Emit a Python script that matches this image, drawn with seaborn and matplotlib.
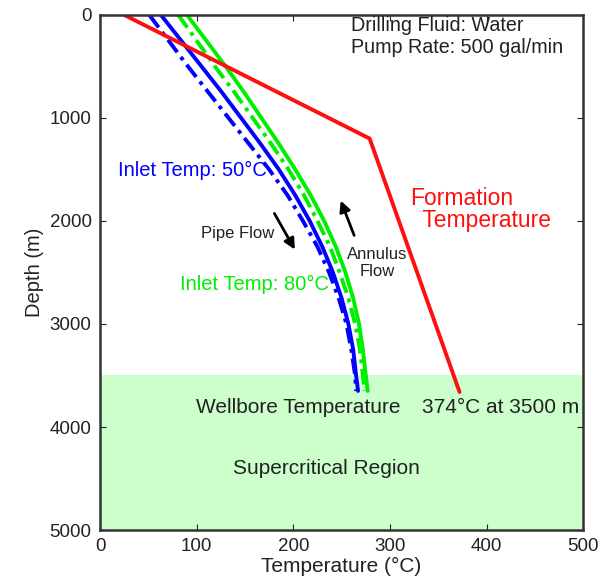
import pandas as pd
import seaborn as sns
import matplotlib
matplotlib.use("Agg")
import matplotlib.pyplot as plt

# depth readings (m)
depth = [0, 250, 500, 750, 1000, 1250, 1500, 1750, 2000, 2250, 2500, 2750, 3000, 3250, 3500, 3650]

# wellbore temps (C)
blue_annulus = [63, 84, 105, 126, 146, 166, 185, 202, 217, 230, 241, 250, 257, 262, 265, 267]
blue_pipe = [51, 71, 91, 112, 133, 154, 175, 194, 210, 225, 237, 247, 255, 260, 264, 265]
green_pipe = [81, 100, 119, 139, 158, 177, 195, 211, 225, 238, 248, 257, 264, 269, 272, 274]
green_annulus = [90, 110, 130, 149, 167, 185, 202, 218, 232, 244, 254, 262, 268, 272, 275, 277]

# formation temperature
form_depth = [0, 1200, 3660]
form_temp = [25, 279, 372]

sns.set_style("ticks")
plt.rcParams['font.family'] = ['Liberation Sans', 'DejaVu Sans']

fig = plt.figure(figsize=(6.04, 5.88), dpi=100)
ax = fig.add_axes([0.1656, 0.0986, 0.800, 0.876])

ax.axhspan(3500, 5000, color='#ccffcc', zorder=0, lw=0)

dd = (4, 1.5, 1, 1.5)
sns.lineplot(x=blue_pipe, y=depth, sort=False, estimator=None, color='#0000ff', lw=2.8, ax=ax)
ax.lines[-1].set_dashes(dd)
sns.lineplot(x=blue_annulus, y=depth, sort=False, estimator=None, color='#0000ff', lw=2.8, ax=ax)
sns.lineplot(x=green_pipe, y=depth, sort=False, estimator=None, color='#00ee00', lw=2.8, ax=ax)
ax.lines[-1].set_dashes(dd)
sns.lineplot(x=green_annulus, y=depth, sort=False, estimator=None, color='#00ee00', lw=2.8, ax=ax)
sns.lineplot(x=form_temp, y=form_depth, sort=False, estimator=None, color='#ff1010', lw=2.8, ax=ax)

ax.set_xlim(0, 500)
ax.set_ylim(5000, 0)
ax.set_xticks(range(0, 501, 100))
ax.set_yticks(range(0, 5001, 1000))
ax.tick_params(direction='in', top=True, right=True, labelsize=13.5, length=4, pad=6, colors='#222222')
for s in ax.spines.values():
    s.set_linewidth(1.8)
    s.set_color('#333333')
ax.set_xlabel("Temperature (°C)", fontsize=15, labelpad=1, color='#222222')
ax.set_ylabel("Depth (m)", fontsize=14.5, labelpad=4, color='#222222')

ax.text(260, 213, "Drilling Fluid: Water\nPump Rate: 500 gal/min", fontsize=14.2, va='center', ha='left',
        linespacing=1.2, color='#222222')
ax.text(19, 1505, "Inlet Temp: 50°C", color='#0000ff', fontsize=14.5, va='center')
ax.text(83, 2621, "Inlet Temp: 80°C", color='#00ee00', fontsize=14.5, va='center')
ax.text(104, 2117, "Pipe Flow", fontsize=12, va='center', color='#222222')
ax.annotate("", xy=(203, 2301), xytext=(179, 1903),
            arrowprops=dict(arrowstyle='-|>', color='black', lw=2, mutation_scale=16))
ax.text(287, 2408, "Annulus\nFlow", fontsize=12, va='center', ha='center', color='#222222')
ax.annotate("", xy=(248, 1777), xytext=(264, 2165),
            arrowprops=dict(arrowstyle='-|>', color='black', lw=2, mutation_scale=16))
ax.text(321, 1893, "Formation\n  Temperature", color='#ff1010', fontsize=16.5, va='center', ha='left',
        linespacing=0.95)
ax.text(205, 3815, "Wellbore Temperature", fontsize=15, va='center', ha='center', color='#222222')
ax.text(415, 3815, "374°C at 3500 m", fontsize=15, va='center', ha='center', color='#222222')
ax.text(234, 4398, "Supercritical Region", fontsize=15, va='center', ha='center', color='#222222')

plt.savefig("out.png", dpi=100)
